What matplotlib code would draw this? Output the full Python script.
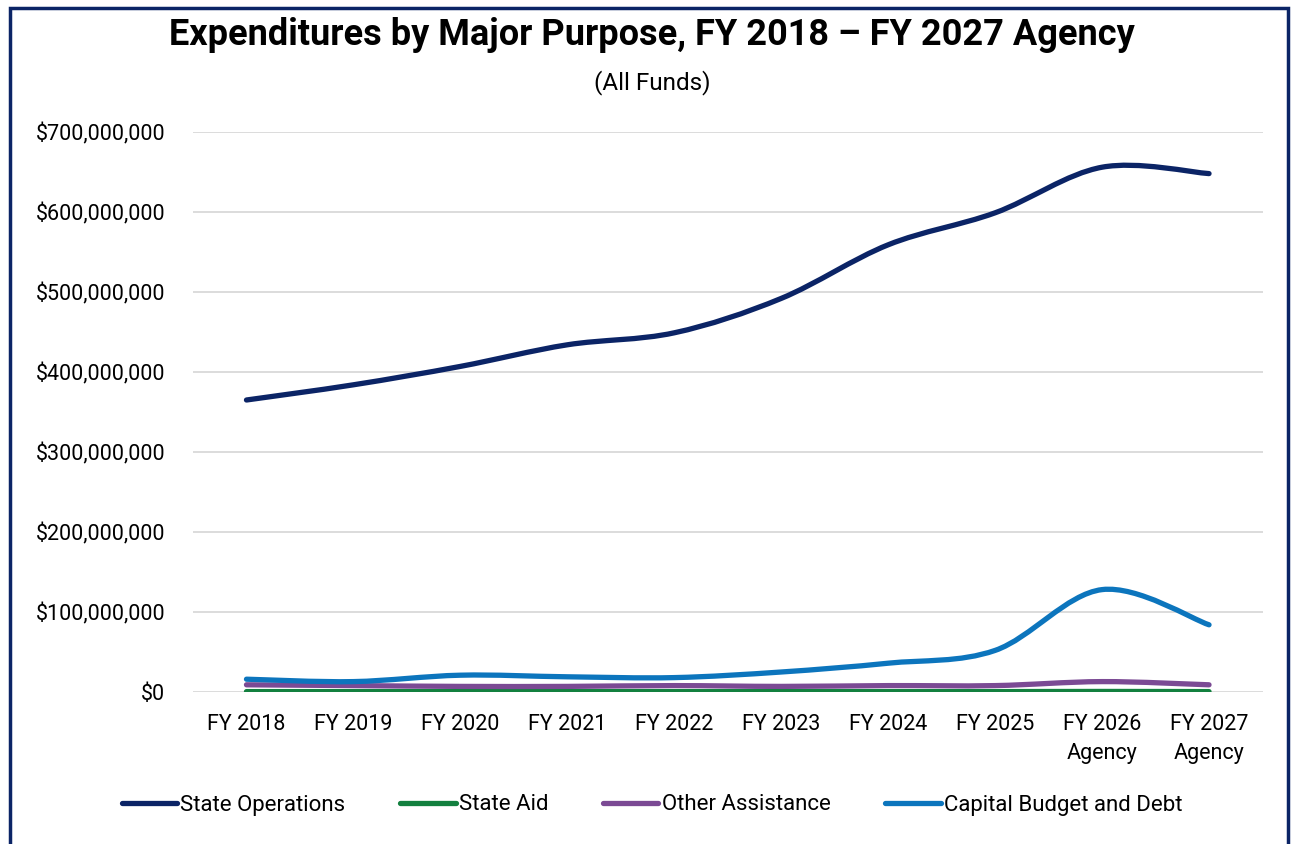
"""
plot.py
"""

import matplotlib
matplotlib.use("Agg")
import matplotlib.pyplot as plt
from matplotlib.path import Path
from matplotlib.patches import PathPatch, Rectangle
from matplotlib.lines import Line2D
from matplotlib.ticker import FuncFormatter

# Data
years = ["FY 2018", "FY 2019", "FY 2020", "FY 2021", "FY 2022",
         "FY 2023", "FY 2024", "FY 2025", "FY 2026\nAgency", "FY 2027\nAgency"]
state_operations = [365e6, 384e6, 407e6, 434e6, 449e6, 492e6, 559e6, 599e6, 656e6, 648e6]
state_aid = [0.5e6, 0.5e6, 0.5e6, 0.5e6, 0.5e6, 0.5e6, 0.5e6, 0.5e6, 0.7e6, 0.5e6]
other_assistance = [9e6, 8e6, 7e6, 7e6, 8e6, 7e6, 8e6, 8e6, 13e6, 9e6]
capital_budget = [16e6, 13e6, 21e6, 19e6, 18e6, 25e6, 36e6, 52e6, 128e6, 84e6]

series = [
    ("State Operations", state_operations, "#0b2466"),
    ("State Aid", state_aid, "#13803f"),
    ("Other Assistance", other_assistance, "#7b4a94"),
    ("Capital Budget and Debt", capital_budget, "#0c75bd"),
]

FONT = "Roboto"


def smooth_path(xs, ys):
    # Excel-style smoothed line: cubic Bezier segments through each point
    n = len(xs)
    pts = list(zip(xs, ys))
    verts = [pts[0]]
    codes = [Path.MOVETO]
    for i in range(n - 1):
        p0 = pts[i - 1] if i > 0 else pts[i]
        p1 = pts[i]
        p2 = pts[i + 1]
        p3 = pts[i + 2] if i + 2 < n else pts[i + 1]
        c1 = (p1[0] + (p2[0] - p0[0]) / 6, p1[1] + (p2[1] - p0[1]) / 6)
        c2 = (p2[0] - (p3[0] - p1[0]) / 6, p2[1] - (p3[1] - p1[1]) / 6)
        verts += [c1, c2, p2]
        codes += [Path.CURVE4] * 3
    return Path(verts, codes)


fig = plt.figure(figsize=(12.91, 8.44), dpi=100)
ax = fig.add_axes([193 / 1291, 1 - 692 / 844, 1069.5 / 1291, 560 / 844])

x = list(range(len(years)))
handles = []
for name, vals, color in series:
    patch = PathPatch(smooth_path(x, vals), facecolor="none", edgecolor=color,
                      lw=3.8, capstyle="round", joinstyle="round", zorder=3)
    ax.add_patch(patch)
    handles.append(Line2D([0], [0], color=color, lw=3.8, solid_capstyle="round"))

ax.set_xlim(-0.5, len(years) - 0.5)
ax.set_ylim(0, 700e6)
ax.set_yticks([i * 100e6 for i in range(8)])
ax.yaxis.set_major_formatter(FuncFormatter(lambda v, p: f"${v:,.0f}"))
ax.set_xticks(x)
ax.set_xticklabels(years, fontfamily=FONT, fontsize=15.5, linespacing=1.55)
for lab in ax.get_yticklabels():
    lab.set_fontfamily(FONT)
    lab.set_fontsize(15.5)
ax.tick_params(length=0)
ax.tick_params(axis="x", pad=15.5)
ax.tick_params(axis="y", pad=20)
ax.grid(axis="y", color="#d9d9d9", lw=1.3)
ax.set_axisbelow(True)
for s in ax.spines.values():
    s.set_visible(False)

fig.text(0.505, 1 - 35 / 844, "Expenditures by Major Purpose, FY 2018 \u2013 FY 2027 Agency",
         ha="center", va="center", fontsize=26, fontweight="bold", fontfamily=FONT)
fig.text(0.505, 1 - 83 / 844, "(All Funds)", ha="center", va="center",
         fontsize=17.5, fontfamily=FONT)

fig.legend(handles, [s[0] for s in series], loc="center", ncol=4,
           bbox_to_anchor=(0.505, 1 - 805 / 844), frameon=False,
           prop={"family": FONT, "size": 16}, handlelength=2.5,
           handletextpad=0.15, columnspacing=2.45)

# outer border
fig.patches.append(Rectangle((10 / 1291, -0.2), 1278 / 1291, 1.2 - 8 / 844,
                             transform=fig.transFigure, fill=False,
                             edgecolor="#0b2466", lw=2.5))

fig.savefig("out.png", dpi=100)
